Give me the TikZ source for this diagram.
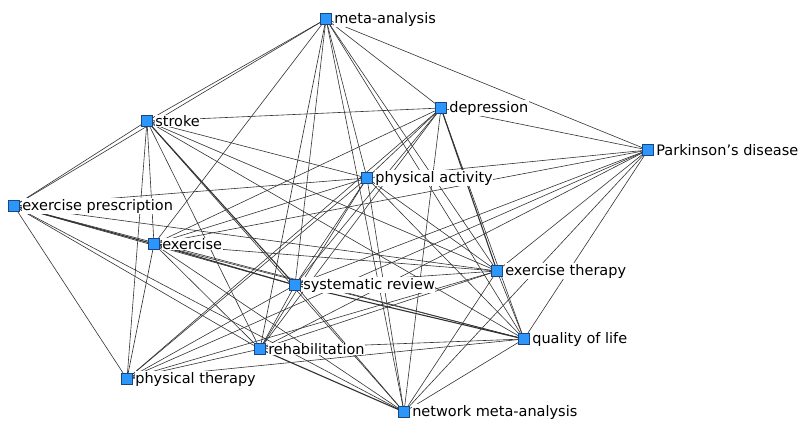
\documentclass[tikz,border=0pt]{standalone}
\usepackage{fontspec}
\setmainfont{DejaVu Sans}
\definecolor{nodefill}{RGB}{45,150,250}
\definecolor{nodeedge}{RGB}{25,70,130}
\definecolor{linkcol}{RGB}{50,50,50}
\tikzset{
  kw/.style={rectangle, draw=nodeedge, fill=nodefill, line width=0.8pt,
    minimum size=11.5pt, inner sep=0pt},
  kwlabel/.style={anchor=west, fill=white, inner sep=0.6pt, text=black,
    font=\fontsize{14.5}{15}\selectfont},
  link/.style={draw=linkcol, line width=0.6pt},
  strong/.style={draw=linkcol, line width=1.1pt},
}
\begin{document}
\begin{tikzpicture}[x=1pt,y=-1pt]
\useasboundingbox (0,0) rectangle (800,421);
% keyword positions
\coordinate (ma)  at (326,19);
\coordinate (dep) at (441,108);
\coordinate (str) at (147,121);
\coordinate (pd)  at (648,150);
\coordinate (pa)  at (367,178);
\coordinate (ep)  at (14,206);
\coordinate (ex)  at (154,244);
\coordinate (et)  at (497,271);
\coordinate (sr)  at (295,285);
\coordinate (qol) at (524,339);
\coordinate (reh) at (260,349);
\coordinate (pt)  at (127,379);
\coordinate (nma) at (404,412);
% co-occurrence links
\foreach \a/\b in {
  ma/dep, ma/str, ma/pd, ma/pa, ma/ep, ma/ex, ma/et, ma/sr, ma/qol, ma/reh, ma/nma,
  dep/str, dep/pd, dep/pa, dep/ex, dep/sr, dep/qol, dep/reh, dep/pt, dep/nma,
  str/pa, str/ep, str/ex, str/et, str/qol, str/reh, str/pt, str/nma,
  pd/pa, pd/ex, pd/et, pd/sr, pd/qol, pd/reh, pd/pt, pd/nma,
  pa/ep, pa/ex, pa/et, pa/sr, pa/qol, pa/reh, pa/pt, pa/nma,
  ep/et, ep/sr, ep/qol, ep/reh, ep/pt, ep/nma,
  ex/et, ex/qol, ex/reh, ex/pt, ex/nma,
  et/sr, et/qol, et/reh, et/pt, et/nma,
  sr/reh, sr/pt, sr/nma,
  qol/reh, qol/pt, qol/nma,
  reh/pt}
  \draw[link] (\a) -- (\b);
% heavier links
\foreach \a/\b in {ep/ex, ex/sr, sr/qol, dep/et, reh/nma, str/sr}
  \draw[strong] (\a) -- (\b);
% labels
\node[kwlabel] (lma)  at ([xshift=7.5pt]ma)  {meta-analysis};
\node[kwlabel] (ldep) at ([xshift=7.5pt]dep) {depression};
\node[kwlabel] (lstr) at ([xshift=7.5pt]str) {stroke};
\node[kwlabel] (lpd)  at ([xshift=7.5pt]pd)  {Parkinson’s disease};
\node[kwlabel] (lpa)  at ([xshift=7.5pt]pa)  {physical activity};
\node[kwlabel] (lep)  at ([xshift=7.5pt]ep)  {exercise prescription};
\node[kwlabel] (lex)  at ([xshift=7.5pt]ex)  {exercise};
\node[kwlabel] (let)  at ([xshift=7.5pt]et)  {exercise therapy};
\node[kwlabel] (lsr)  at ([xshift=7.5pt]sr)  {systematic review};
\node[kwlabel] (lqol) at ([xshift=7.5pt]qol) {quality of life};
\node[kwlabel] (lreh) at ([xshift=7.5pt]reh) {rehabilitation};
\node[kwlabel] (lpt)  at ([xshift=7.5pt]pt)  {physical therapy};
\node[kwlabel] (lnma) at ([xshift=7.5pt]nma) {network meta-analysis};
% keyword markers
\foreach \n in {ma,dep,str,pd,pa,ep,ex,et,sr,qol,reh,pt,nma}
  \node[kw] (k\n) at (\n) {};
\end{tikzpicture}
\end{document}
